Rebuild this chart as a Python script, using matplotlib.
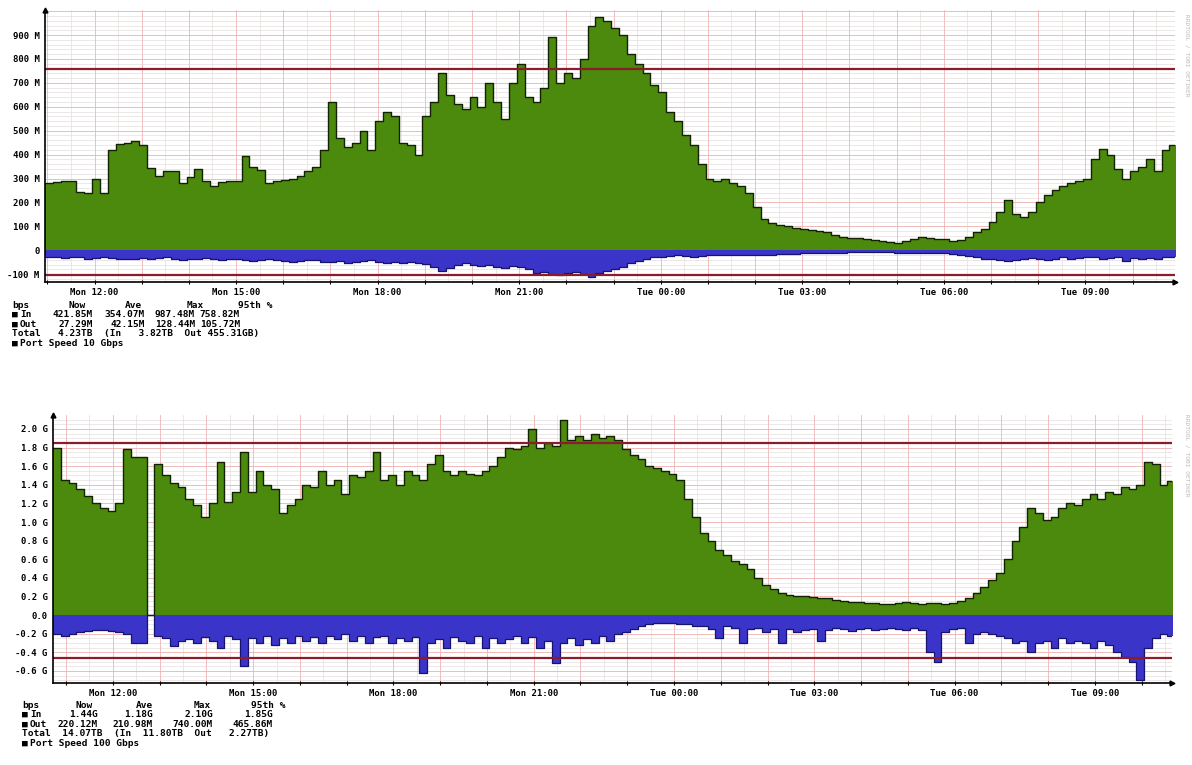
import numpy as np
import matplotlib
matplotlib.use("Agg")
import matplotlib.pyplot as plt

# ==========================
# DATOS
# ==========================
tick_hours = [12, 15, 18, 21, 24, 27, 30, 33]
tick_labels = ["Mon 12:00", "Mon 15:00", "Mon 18:00", "Mon 21:00",
               "Tue 00:00", "Tue 03:00", "Tue 06:00", "Tue 09:00"]

# muestras cada 10 minutos
top_start = 10.95
bot_start = 10.72

# grafico superior (Mbps)
top_in = [280, 285, 290, 290, 245, 240, 296, 240, 420, 445, 450, 458,
          440, 345, 310, 333, 330, 283, 305, 340, 290, 270, 285, 290,
          290, 395, 350, 335, 280, 290, 295, 300, 310, 330, 350, 420,
          620, 470, 430, 450, 500, 420, 540, 580, 560, 450, 440, 400,
          560, 620, 740, 650, 610, 590, 640, 600, 700, 620, 550, 700,
          780, 640, 620, 680, 890, 700, 740, 720, 800, 940, 975, 960,
          930, 900, 820, 780, 740, 690, 660, 580, 540, 480, 440, 360,
          300, 290, 300, 280, 270, 240, 180, 130, 115, 105, 100, 95,
          90, 85, 80, 75, 65, 55, 50, 50, 45, 42, 40, 35,
          30, 40, 48, 55, 50, 48, 45, 40, 42, 55, 75, 90,
          120, 160, 210, 150, 140, 160, 200, 230, 250, 270, 280, 290,
          300, 380, 425, 400, 340, 300, 330, 350, 380, 330, 420, 440,
          422]
top_out = [30, 28, 32, 30, 30, 35, 32, 30, 33, 35, 38, 35,
           32, 35, 33, 30, 36, 40, 35, 38, 33, 35, 40, 38,
           35, 40, 45, 42, 38, 40, 45, 50, 45, 42, 40, 48,
           50, 45, 55, 50, 45, 42, 48, 52, 50, 55, 48, 52,
           58, 70, 85, 75, 60, 55, 60, 65, 60, 70, 75, 65,
           70, 80, 95, 90, 100, 105, 95, 90, 100, 110, 95, 85,
           80, 70, 55, 45, 35, 30, 28, 25, 22, 25, 28, 25,
           22, 20, 22, 20, 18, 20, 22, 20, 18, 17, 15, 14,
           13, 12, 12, 11, 10, 10, 9, 9, 8, 8, 8, 9,
           10, 10, 12, 12, 11, 12, 13, 15, 20, 25, 30, 35,
           38, 42, 45, 40, 35, 32, 35, 40, 38, 30, 35, 32,
           30, 28, 35, 32, 30, 45, 32, 35, 34, 38, 30, 28,
           27]
top_p95_in = 758.82
top_p95_out = 105.72

# grafico inferior (Gbps)
bot_in = [1.80, 1.45, 1.42, 1.35, 1.28, 1.20, 1.15, 1.12, 1.20, 1.78, 1.70, 1.70,
          0.00, 1.62, 1.50, 1.42, 1.38, 1.25, 1.18, 1.05, 1.20, 1.65, 1.22, 1.32,
          1.75, 1.32, 1.55, 1.40, 1.35, 1.10, 1.18, 1.25, 1.40, 1.38, 1.55, 1.40,
          1.45, 1.30, 1.50, 1.48, 1.55, 1.75, 1.45, 1.50, 1.40, 1.55, 1.50, 1.45,
          1.62, 1.72, 1.55, 1.50, 1.55, 1.52, 1.50, 1.55, 1.60, 1.70, 1.80, 1.78,
          1.82, 2.00, 1.80, 1.85, 1.82, 2.10, 1.88, 1.92, 1.88, 1.95, 1.90, 1.92,
          1.88, 1.78, 1.72, 1.68, 1.60, 1.58, 1.55, 1.52, 1.45, 1.25, 1.05, 0.88,
          0.80, 0.70, 0.65, 0.58, 0.55, 0.50, 0.40, 0.32, 0.28, 0.24, 0.22, 0.20,
          0.20, 0.19, 0.18, 0.18, 0.16, 0.15, 0.14, 0.14, 0.13, 0.13, 0.12, 0.12,
          0.13, 0.14, 0.13, 0.12, 0.13, 0.13, 0.12, 0.13, 0.15, 0.18, 0.24, 0.30,
          0.38, 0.45, 0.60, 0.80, 0.95, 1.15, 1.10, 1.02, 1.05, 1.15, 1.20, 1.18,
          1.25, 1.30, 1.25, 1.32, 1.30, 1.38, 1.35, 1.40, 1.65, 1.62, 1.40, 1.44,
          1.44]
bot_out = [0.20, 0.22, 0.20, 0.18, 0.17, 0.16, 0.16, 0.17, 0.18, 0.20, 0.30, 0.30,
           0.00, 0.22, 0.25, 0.33, 0.28, 0.26, 0.30, 0.24, 0.28, 0.35, 0.22, 0.26,
           0.55, 0.25, 0.30, 0.22, 0.32, 0.25, 0.30, 0.22, 0.28, 0.24, 0.30, 0.22,
           0.26, 0.20, 0.28, 0.22, 0.30, 0.24, 0.22, 0.30, 0.25, 0.28, 0.24, 0.62,
           0.30, 0.26, 0.35, 0.24, 0.28, 0.30, 0.22, 0.35, 0.25, 0.30, 0.26, 0.22,
           0.30, 0.24, 0.35, 0.28, 0.52, 0.30, 0.25, 0.32, 0.26, 0.30, 0.22, 0.28,
           0.20, 0.18, 0.15, 0.12, 0.10, 0.08, 0.08, 0.08, 0.10, 0.10, 0.12, 0.12,
           0.15, 0.25, 0.12, 0.14, 0.30, 0.15, 0.14, 0.18, 0.15, 0.30, 0.15, 0.18,
           0.16, 0.15, 0.28, 0.16, 0.14, 0.15, 0.17, 0.15, 0.14, 0.16, 0.15, 0.14,
           0.15, 0.16, 0.14, 0.16, 0.40, 0.50, 0.18, 0.15, 0.14, 0.30, 0.20, 0.18,
           0.20, 0.22, 0.25, 0.30, 0.28, 0.40, 0.30, 0.28, 0.35, 0.25, 0.30, 0.28,
           0.30, 0.35, 0.28, 0.32, 0.40, 0.45, 0.50, 0.70, 0.35, 0.25, 0.20, 0.22,
           0.22]
bot_p95_in = 1.85
bot_p95_out = 0.46586

# leyendas
top_legend = {
    "header": ["bps", "Now", "Ave", "Max", "95th %"],
    "in": ["421.85M", "354.07M", "987.48M", "758.82M"],
    "out": ["27.29M", "42.15M", "128.44M", "105.72M"],
    "total": "Total   4.23TB  (In   3.82TB  Out 455.31GB)",
    "port": "Port Speed 10 Gbps",
}
bot_legend = {
    "header": ["bps", "Now", "Ave", "Max", "95th %"],
    "in": ["1.44G", "1.18G", "2.10G", "1.85G"],
    "out": ["220.12M", "210.98M", "740.00M", "465.86M"],
    "total": "Total  14.07TB  (In  11.80TB  Out   2.27TB)",
    "port": "Port Speed 100 Gbps",
}

# ==========================
# ESTILO
# ==========================
W, H = 1192, 765
GREEN = "#4b8a0c"
BLUE = "#3a34c8"
RED = "#8a1c2c"
GRID_MAJOR = "#f0b4b4"
GRID_MINOR = "#e6dede"
MONO = dict(family="DejaVu Sans Mono", weight="bold")

fig = plt.figure(figsize=(W / 100, H / 100), dpi=100)


def px_axes(x0, y0, x1, y1):
    return fig.add_axes([x0 / W, 1 - y1 / H, (x1 - x0) / W, (y1 - y0) / H])


def draw_panel(ax, start, vin, vout, p95_in, p95_out, ylim, xlim, major, minor, ytick_fmt):
    t = start + np.arange(len(vin)) / 6.0
    vin = np.array(vin, dtype=float)
    vout = -np.array(vout, dtype=float)

    # rejilla
    for y in np.arange(-2000, 2000, minor):
        y = round(y, 4)
        if ylim[0] < y < ylim[1]:
            ax.axhline(y, color=GRID_MINOR, lw=0.5, zorder=0)
    for y in np.arange(-2000, 2000, major):
        y = round(y, 4)
        if ylim[0] < y < ylim[1]:
            ax.axhline(y, color=GRID_MAJOR, lw=0.6, zorder=0.5)
    for h in np.arange(10, 36, 0.5):
        c, lw = (GRID_MAJOR, 0.6) if h % 1 == 0 else (GRID_MINOR, 0.5)
        ax.axvline(h, color=c, lw=lw, zorder=0)

    ax.fill_between(t, 0, vin, step="post", color=GREEN, lw=0, zorder=2)
    ax.step(t, vin, where="post", color="#142204", lw=1.0, zorder=3)
    ax.fill_between(t, 0, vout, step="post", color=BLUE, lw=0, zorder=2)
    ax.step(t, vout, where="post", color="#16146e", lw=0.9, zorder=3)

    ax.axhline(p95_in, color=RED, lw=1.6, zorder=4)
    ax.axhline(-p95_out, color=RED, lw=1.6, zorder=4)

    ax.set_xlim(*xlim)
    ax.set_ylim(*ylim)
    ax.set_xticks(tick_hours)
    ax.set_xticklabels(tick_labels, fontsize=6.5, **MONO)
    ax.set_xticks(np.arange(11, 35, 1), minor=True)
    yt = [round(v, 4) for v in np.arange(-2000, 2000, major) if ylim[0] < v < ylim[1] - major * 0.05]
    ax.set_yticks(yt)
    ax.set_yticklabels([ytick_fmt(v) for v in yt], fontsize=6.5, **MONO)
    ax.tick_params(axis="both", which="both", length=2.5, width=0.8, direction="inout", pad=3)
    ax.tick_params(axis="y", which="major", length=0, pad=4)
    for s in ["top", "right"]:
        ax.spines[s].set_visible(False)
    for s in ["left", "bottom"]:
        ax.spines[s].set_linewidth(1.2)
        ax.spines[s].set_zorder(5)
    ax.plot([1], [0], ">", transform=ax.transAxes, color="black", ms=3.5, clip_on=False, zorder=6)
    ax.plot([0], [1], "^", transform=ax.transAxes, color="black", ms=3.5, clip_on=False, zorder=6)
    ax.set_facecolor("white")


def fmt_top(v):
    if v == 0:
        return "0"
    return f"{int(v)} M"


def fmt_bot(v):
    if abs(v) < 1e-9:
        return "0.0"
    return f"{v:.1f} G"


ax1 = px_axes(45, 10, 1175, 282)
draw_panel(ax1, top_start, top_in, top_out, top_p95_in, top_p95_out,
           (-133, 1005), (10.95, 34.9), 100, 20, fmt_top)

ax2 = px_axes(53, 415, 1172, 683)
draw_panel(ax2, bot_start, bot_in, bot_out, bot_p95_in, bot_p95_out,
           (-0.73, 2.15), (10.72, 34.65), 0.2, 0.05, fmt_bot)


def draw_legend(leg, x0, y0, right_cols, head_cols):
    fs = 6.8
    dy = 9.6
    kw = dict(fontsize=fs, va="center", **MONO)
    # cabecera
    fig.text(x0 / W, 1 - y0 / H, leg["header"][0], ha="left", **kw)
    for txt, xc in zip(leg["header"][1:], head_cols):
        fig.text(xc / W, 1 - y0 / H, txt, ha="center", **kw)
    for row, name, k in [(1, "In", "in"), (2, "Out", "out")]:
        y = 1 - (y0 + row * dy) / H
        fig.text(x0 / W, y, "\u25a0", ha="left", **kw)
        fig.text((x0 + 8) / W, y, name, ha="left", **kw)
        for txt, xr in zip(leg[k], right_cols):
            fig.text(xr / W, y, txt, ha="right", **kw)
    fig.text(x0 / W, 1 - (y0 + 3 * dy) / H, leg["total"], ha="left", **kw)
    y = 1 - (y0 + 4 * dy) / H
    fig.text(x0 / W, y, "\u25a0", ha="left", **kw)
    fig.text((x0 + 8) / W, y, leg["port"], ha="left", **kw)


draw_legend(top_legend, 12, 305, [93, 145, 195, 240], [77, 133, 195, 255])
draw_legend(bot_legend, 22, 705, [98, 153, 213, 273], [84, 144, 202, 268])

# marca lateral
for yc in (55, 455):
    fig.text(1187 / W, 1 - yc / H, "RRDTOOL / TOBI OETIKER", rotation=270,
             fontsize=4.5, color="#bbbbbb", ha="center", va="center", family="DejaVu Sans Mono")

fig.savefig("out.png", dpi=100, facecolor="white")
